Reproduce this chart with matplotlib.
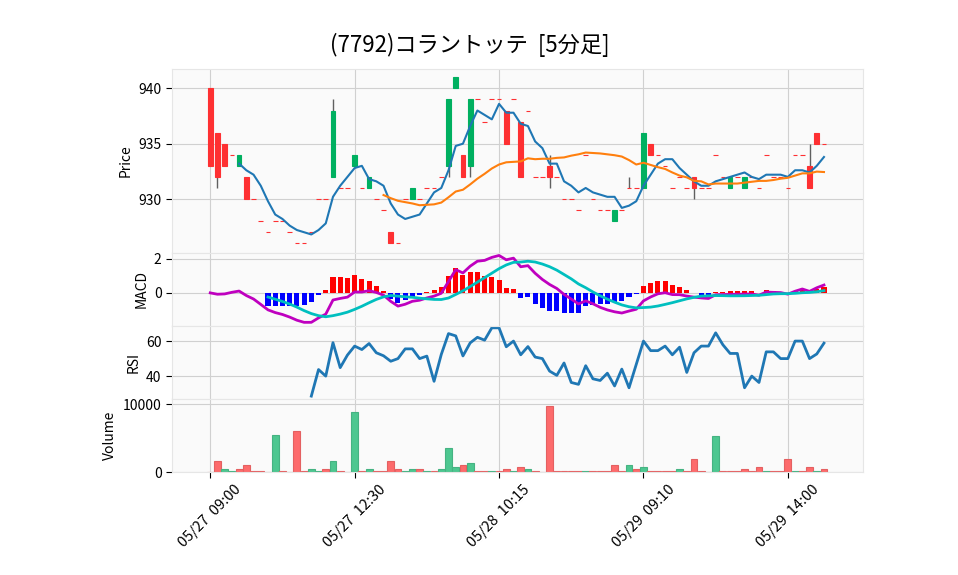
import numpy as np
import pandas as pd
import matplotlib
matplotlib.use('Agg')
import matplotlib.pyplot as plt
from matplotlib import colors as mcolors

plt.rcParams['font.family'] = ['Noto Sans CJK JP', 'DejaVu Sans']

title = '(7792)コラントッテ  [5分足]'

# 5-minute candles (index 0 = 05/27 09:00)
opens = [940, 936, 935, 934, 933, 932, 930, 928, 927, 928,
         928, 927, 926, 926, 927, 930, 930, 932, 931, 931,
         933, 931, 931, 930, 929, 927, 926, 930, 930, 930,
         931, 931, 932, 933, 940, 934, 933, 939, 937, 939,
         939, 938, 939, 937, 938, 932, 932, 933, 932, 930,
         930, 929, 934, 930, 929, 929, 928, 929, 931, 931,
         931, 935, 934, 933, 931, 932, 931, 932, 931, 931,
         934, 932, 931, 932, 931, 932, 931, 934, 932, 932,
         931, 934, 934, 933, 936, 935]
highs = [940, 936, 935, 934, 934, 932, 930, 928, 927, 928,
         928, 927, 926, 926, 927, 930, 930, 939, 931, 931,
         934, 931, 932, 930, 929, 927, 926, 930, 931, 930,
         931, 931, 932, 939, 941, 934, 939, 939, 937, 939,
         939, 938, 939, 937, 938, 932, 932, 934, 932, 930,
         930, 929, 934, 930, 929, 929, 929, 929, 932, 931,
         936, 935, 934, 933, 931, 932, 931, 932, 931, 931,
         934, 932, 932, 932, 932, 932, 931, 934, 932, 932,
         931, 934, 934, 935, 936, 935]
lows = [933, 931, 933, 934, 933, 930, 930, 928, 927, 928,
        928, 927, 926, 926, 927, 930, 930, 932, 931, 931,
        933, 931, 931, 930, 929, 926, 926, 930, 930, 930,
        931, 931, 932, 932, 940, 932, 932, 939, 937, 939,
        939, 935, 939, 932, 938, 932, 932, 931, 932, 930,
        930, 929, 934, 930, 929, 929, 928, 929, 931, 931,
        931, 934, 934, 933, 931, 932, 931, 930, 931, 931,
        934, 932, 931, 932, 931, 932, 931, 934, 932, 932,
        931, 934, 934, 931, 935, 935]
closes = [933, 932, 933, 934, 934, 930, 930, 928, 927, 928,
          928, 927, 926, 926, 927, 930, 930, 938, 931, 931,
          934, 931, 932, 930, 929, 926, 926, 930, 931, 930,
          931, 931, 932, 939, 941, 932, 939, 939, 937, 939,
          939, 935, 939, 932, 938, 932, 932, 932, 932, 930,
          930, 929, 934, 930, 929, 929, 929, 929, 931, 931,
          936, 934, 934, 933, 931, 932, 931, 931, 931, 931,
          934, 932, 932, 932, 932, 932, 931, 934, 932, 932,
          931, 934, 934, 931, 935, 935]
volumes = [0, 1600, 500, 200, 400, 1000, 100, 100, 0, 5400,
           200, 0, 6000, 100, 500, 100, 400, 1600, 200, 0,
           8800, 200, 500, 100, 200, 1600, 400, 100, 400, 400,
           100, 100, 400, 3500, 700, 1000, 1300, 200, 100, 100,
           100, 400, 100, 700, 400, 200, 0, 9800, 200, 100,
           200, 200, 200, 100, 200, 100, 1000, 100, 1000, 500,
           700, 200, 200, 100, 100, 400, 100, 1900, 100, 0,
           5300, 200, 200, 200, 400, 100, 700, 200, 100, 200,
           2000, 100, 100, 700, 200, 400]

tick_pos = [0, 20, 40, 60, 80]
tick_labels = ['05/27  09:00', '05/27  12:30', '05/28  10:15',
               '05/29  09:10', '05/29  14:00']

o = np.array(opens, float)
h = np.array(highs, float)
l = np.array(lows, float)
c = np.array(closes, float)
v = np.array(volumes, float)
x = np.arange(len(c))

# indicators
s = pd.Series(c)
ma5 = s.rolling(5).mean()
ma25 = s.rolling(25).mean()
macd = s.ewm(span=12, adjust=False).mean() - s.ewm(span=26, adjust=False).mean()
signal = macd.rolling(9).mean()
hist = macd - signal
d = s.diff()
gain = d.clip(lower=0).rolling(14).mean()
loss = (-d.clip(upper=0)).rolling(14).mean()
rsi = 100 * gain / (gain + loss)

UP, DOWN = '#00b060', '#fe3032'
VUP, VDOWN = '#4dc790', '#fd6b6c'
BG = '#fafafa'
GRID = '#d0d0d0'


def darker(col, f=0.9):
    r, g, b = mcolors.to_rgb(col)
    return (r * f, g * f, b * f)


fig = plt.figure(figsize=(9.58, 5.75), dpi=100)
L, W = 0.1795, 0.7213
ax1 = fig.add_axes([L, 0.5605, W, 0.3195])
ax2 = fig.add_axes([L, 0.433, W, 0.1275])
ax3 = fig.add_axes([L, 0.306, W, 0.127])
ax4 = fig.add_axes([L, 0.179, W, 0.127])

for ax in (ax1, ax2, ax3, ax4):
    ax.set_facecolor(BG)
    ax.grid(True, color=GRID, lw=0.8)
    ax.set_axisbelow(True)
    ax.set_xlim(-5.3, 90.4)
    ax.set_xticks(tick_pos)
    for sp in ax.spines.values():
        sp.set_color('#e6e6e6')
    ax.tick_params(axis='y', labelsize=10, length=4, color='k')
    ax.tick_params(axis='x', bottom=False, labelbottom=False)

# price
up = c > o
ccol = np.where(up, UP, DOWN)
ax1.vlines(x, l, h, color='#606060', lw=1, zorder=2)
ax1.bar(x, c - o, bottom=o, width=0.65, color=ccol, edgecolor=ccol,
        linewidth=0.8, zorder=3)
ax1.plot(x, ma5, color='#1f77b4', lw=1.5, zorder=4)
ax1.plot(x, ma25, color='#ff7f0e', lw=1.5, zorder=4)
ax1.set_ylim(925.15, 941.75)
ax1.set_yticks([930, 935, 940])
ax1.set_ylabel('Price', fontsize=10)

# macd
hcol = np.where(hist >= 0, 'r', 'b')
ax2.bar(x, hist, width=0.7, color=hcol, zorder=2)
ax2.plot(x, macd, color='m', lw=2, zorder=3)
ax2.plot(x, signal, color='c', lw=2, zorder=3)
ax2.set_ylim(-1.94, 2.35)
ax2.set_yticks([0, 2])
ax2.set_ylabel('MACD', fontsize=10)

# rsi
ax3.plot(x, rsi, color='#1f77b4', lw=2)
ax3.set_ylim(26.9, 68.6)
ax3.set_yticks([40, 60])
ax3.set_ylabel('RSI', fontsize=10)

# volume, coloured by close vs previous close
prev = np.r_[np.nan, c[:-1]]
vcol = [VUP if p < cc else VDOWN for p, cc in zip(prev, c)]
ax4.bar(x, v, width=0.95, color=vcol, edgecolor=[darker(k) for k in vcol],
        linewidth=0.8)
ax4.set_ylim(0, 1.1 * v.max())
ax4.set_yticks([0, 10000])
ax4.set_ylabel('Volume', fontsize=10)
ax4.tick_params(axis='x', bottom=True, labelbottom=True, labelsize=10.5,
                length=4, color='k')
ax4.set_xticklabels(tick_labels, rotation=45, ha='center')

fig.suptitle(title, x=0.49, y=0.922, fontsize=16, va='center')

plt.savefig('out.png', dpi=100)
